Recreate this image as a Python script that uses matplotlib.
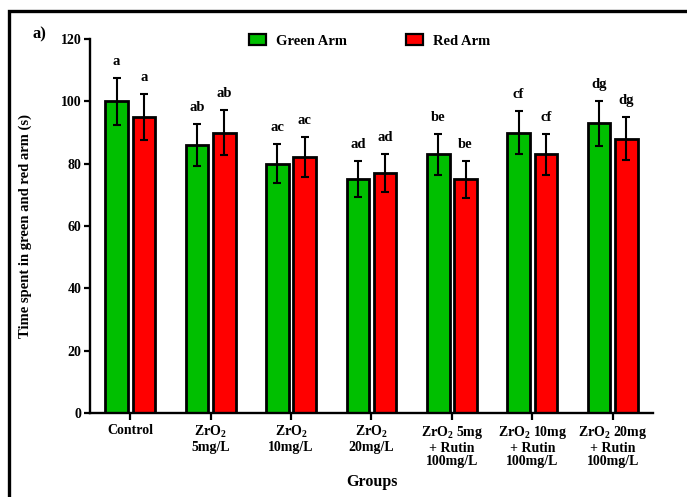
import matplotlib
matplotlib.use("Agg")
import matplotlib.pyplot as plt
from matplotlib.patches import Patch, Rectangle
import numpy as np

plt.rcParams['font.family'] = ['Liberation Serif', 'DejaVu Serif']
plt.rcParams['font.weight'] = 'bold'
plt.rcParams['mathtext.fontset'] = 'custom'
plt.rcParams['mathtext.rm'] = 'Liberation Serif:bold'
plt.rcParams['mathtext.default'] = 'rm'

groups = ["Control",
          "ZrO$_2$\n5mg/L",
          "ZrO$_2$\n10mg/L",
          "ZrO$_2$\n20mg/L",
          "ZrO$_2$ 5mg\n+ Rutin\n100mg/L",
          "ZrO$_2$ 10mg\n+ Rutin\n100mg/L",
          "ZrO$_2$ 20mg\n+ Rutin\n100mg/L"]

green_mean = [100, 86, 80, 75, 83, 90, 93]
green_err = [7.6, 6.7, 6.3, 5.8, 6.5, 7.0, 7.2]
green_letters = ["a", "ab", "ac", "ad", "be", "cf", "dg"]

red_mean = [95, 90, 82, 77, 75, 83, 88]
red_err = [7.4, 7.1, 6.4, 6.2, 6.0, 6.5, 6.9]
red_letters = ["a", "ab", "ac", "ad", "be", "cf", "dg"]

green_col = "#00bf00"
red_col = "#ff0000"

fig = plt.figure(figsize=(6.87, 4.97), dpi=100)
ax = fig.add_axes([0.131, 0.169, 0.8195, 0.7525])

x = np.arange(len(groups))
w = 0.28
off = 0.17

ax.bar(x - off, green_mean, w, color=green_col, edgecolor="black", linewidth=2.0, zorder=2)
ax.bar(x + off, red_mean, w, color=red_col, edgecolor="black", linewidth=2.0, zorder=2)
ax.errorbar(x - off, green_mean, yerr=green_err, fmt="none", ecolor="black",
            elinewidth=1.5, capsize=3, capthick=1.5, zorder=3)
ax.errorbar(x + off, red_mean, yerr=red_err, fmt="none", ecolor="black",
            elinewidth=1.5, capsize=3, capthick=1.5, zorder=3)

for i in range(len(groups)):
    ax.text(x[i] - off, green_mean[i] + green_err[i] + 5.3, green_letters[i],
            ha="center", va="center", fontsize=10.5, fontweight="bold")
    ax.text(x[i] + off, red_mean[i] + red_err[i] + 5.3, red_letters[i],
            ha="center", va="center", fontsize=10.5, fontweight="bold")

ax.set_xlim(-0.5, 6.5)
ax.set_ylim(0, 120)
ax.set_yticks([0, 20, 40, 60, 80, 100, 120])
ax.set_xticks(x)
ax.set_xticklabels(groups, fontsize=10, fontweight="bold", linespacing=1.05)
ax.tick_params(axis="y", labelsize=10, width=1.6, length=4, pad=2)
ax.tick_params(axis="x", width=1.6, length=5, pad=3)
for lab in ax.get_yticklabels():
    lab.set_fontweight("bold")

for s in ["top", "right"]:
    ax.spines[s].set_visible(False)
for s in ["left", "bottom"]:
    ax.spines[s].set_linewidth(1.7)

ax.set_ylabel("Time spent in green and red arm (s)", fontsize=10.5, fontweight="bold")
ax.yaxis.set_label_coords(-0.103, 0.5)
ax.set_xlabel("Groups", fontsize=11.5, fontweight="bold")
ax.xaxis.set_label_coords(0.5, -0.162)

handles = [Patch(facecolor=green_col, edgecolor="black", linewidth=1.6, label="Green Arm"),
           Patch(facecolor=red_col, edgecolor="black", linewidth=1.6, label="Red Arm")]
fig.legend(handles=handles, loc="center", bbox_to_anchor=(0.538, 0.9175), ncol=2,
           frameon=False, prop={"size": 10.5, "weight": "bold"},
           handlelength=1.2, handleheight=0.7, handletextpad=0.7, columnspacing=4.0)

fig.text(0.058, 0.93, "a)", fontsize=12, fontweight="bold", ha="center", va="center")

fig.patches.append(Rectangle((0.0135, -0.1), 1.2, 1.078, transform=fig.transFigure,
                             fill=False, edgecolor="black", linewidth=2.4))

fig.savefig("out.png", dpi=100)
